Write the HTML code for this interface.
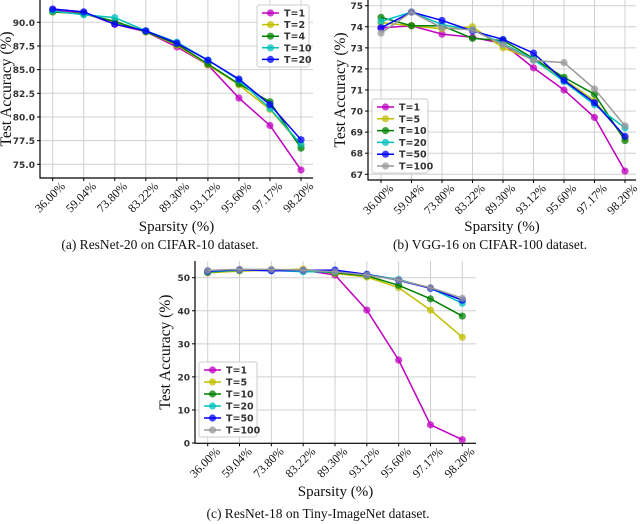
<!DOCTYPE html>
<html><head><meta charset="utf-8"><style>
html,body{margin:0;padding:0;background:#fff;width:640px;height:524px;overflow:hidden}
svg{display:block}
</style></head><body>
<svg id="fig" width="640" height="524" xmlns="http://www.w3.org/2000/svg"></svg>
<script>
const categories = ["36.00%","59.04%","73.80%","83.22%","89.30%","93.12%","95.60%","97.17%","98.20%"];
// Panel (a) ResNet-20 CIFAR-10
const aNames = ["T=1","T=2","T=4","T=10","T=20"];
const aT1 = [91.3,91.0,89.8,89.0,87.4,85.5,82.0,79.1,74.4];
const aT2 = [91.1,90.9,90.0,89.0,87.6,85.5,83.4,80.8,77.0];
const aT4 = [91.1,90.9,90.1,89.0,87.7,85.6,83.5,81.6,76.7];
const aT10 = [91.2,90.8,90.5,89.1,87.9,86.0,83.9,80.9,77.1];
const aT20 = [91.4,91.1,89.8,89.1,87.8,86.0,84.0,81.3,77.6];
const aTicks = [75.0,77.5,80.0,82.5,85.0,87.5,90.0];
// Panel (b) VGG-16 CIFAR-100
const bNames = ["T=1","T=5","T=10","T=20","T=50","T=100"];
const bT1 = [73.95,74.05,73.65,73.5,73.2,72.05,71.0,69.7,67.15];
const bT5 = [74.2,74.05,73.9,74.0,73.0,72.45,71.5,70.5,68.7];
const bT10 = [74.45,74.05,74.05,73.45,73.35,72.5,71.6,70.8,68.6];
const bT20 = [74.25,74.7,74.1,73.85,73.2,72.45,71.4,70.3,69.2];
const bT50 = [73.95,74.7,74.3,73.8,73.4,72.75,71.45,70.4,68.8];
const bT100 = [73.7,74.7,73.95,73.85,73.15,72.4,72.3,71.05,69.3];
const bTicks = [67,68,69,70,71,72,73,74,75];
// Panel (c) ResNet-18 Tiny-ImageNet
const cNames = ["T=1","T=5","T=10","T=20","T=50","T=100"];
const cT1 = [51.5,52.2,52.3,52.3,50.8,40.2,25.1,5.5,1.0];
const cT5 = [51.5,52.0,52.3,52.6,51.3,50.2,47.0,40.2,32.0];
const cT10 = [51.7,52.3,52.3,52.2,51.5,50.6,47.7,43.6,38.4];
const cT20 = [51.8,52.3,52.2,51.8,51.8,51.0,49.5,46.8,42.3];
const cT50 = [52.0,52.4,52.1,52.2,52.3,51.0,49.2,46.8,43.2];
const cT100 = [52.2,52.5,52.5,52.3,51.8,50.8,49.3,47.0,43.8];
const cTicks = [0,10,20,30,40,50];

const NS="http://www.w3.org/2000/svg";
const svg=document.getElementById('fig');
function el(tag,attrs,parent){const e=document.createElementNS(NS,tag);for(const k in attrs)e.setAttribute(k,attrs[k]);(parent||svg).appendChild(e);return e;}

function panel(o){
  const g=el('g',{});
  
  
  const x=i=>o.x0+i*(o.x1-o.x0)/(categories.length-1);
  const y=v=>o.yA+(v-o.vA)*(o.yB-o.yA)/(o.vB-o.vA);
  categories.forEach((c,i)=>{el('line',{x1:x(i),x2:x(i),y1:o.top,y2:o.bot,stroke:'#d0d0d0','stroke-width':1},g);});
  o.ticks.forEach(t=>{el('line',{x1:o.left,x2:o.right,y1:y(t),y2:y(t),stroke:'#d0d0d0','stroke-width':1},g);});
  el('line',{x1:o.left,x2:o.left,y1:o.top,y2:o.bot+0.5,stroke:'#000','stroke-width':1.2},g);
  el('line',{x1:o.left,x2:o.right,y1:o.bot,y2:o.bot,stroke:'#000','stroke-width':1.2},g);
  o.ticks.forEach(t=>{
    el('line',{x1:o.left-3,x2:o.left,y1:y(t),y2:y(t),stroke:'#000'},g);
    const tx=el('text',{x:o.left-5,y:y(t)+3.5,'text-anchor':'end','font-family':'DejaVu Sans, sans-serif','font-size':9,'font-weight':'bold',fill:'#333'},g);
    tx.textContent=o.fmt(t);
    
    
  });
  categories.forEach((c,i)=>{
    el('line',{x1:x(i),x2:x(i),y1:o.bot,y2:o.bot+3,stroke:'#000'},g);
    const tx=el('text',{transform:`translate(${x(i)},${o.bot+22}) rotate(-45)`,'text-anchor':'middle','font-family':'Liberation Serif, serif','font-size':12,fill:'#111'},g);
    tx.textContent=c;
    
    
  });
  o.series.forEach((s,si)=>{
    const pts=s.vals.map((v,i)=>`${x(i)},${y(v)}`).join(' ');
    const pl=el('polyline',{points:pts,fill:'none',stroke:s.color,'stroke-width':1.5},g);
    
    
    s.vals.forEach((v,i)=>{
      const c=el('circle',{cx:x(i),cy:y(v),r:3.6,fill:s.color,'fill-opacity':0.75},g);
      
      
    });
  });
  const L=o.leg;
  const lg=el('g',{},g);
  
  
  el('rect',{x:L.x,y:L.y,width:L.w,height:L.h,rx:2,fill:'#fff','fill-opacity':0.85,stroke:'#ccc'},lg);
  o.series.forEach((s,si)=>{
    const yy=L.y+L.pad+si*L.step;
    el('line',{x1:L.x+5,x2:L.x+22,y1:yy,y2:yy,stroke:s.color,'stroke-width':1.5},lg);
    el('circle',{cx:L.x+13.5,cy:yy,r:3.6,fill:s.color,'fill-opacity':0.75},lg);
    const t=el('text',{x:L.x+27,y:yy+3.5,'font-family':'DejaVu Sans, sans-serif','font-size':9.5,'font-weight':'bold',fill:'#333'},lg);
    t.textContent=s.name;
    
    
  });
  const yl=el('text',{transform:`translate(${o.ylx},${(o.top+o.bot)/2}) rotate(-90)`,'text-anchor':'middle','font-family':'Liberation Serif, serif','font-size':15.5,fill:'#111'},g);
  yl.textContent='Test Accuracy (%)';
  
  
  const xl=el('text',{x:(o.left+o.right)/2,y:o.xly,'text-anchor':'middle','font-family':'Liberation Serif, serif','font-size':15,fill:'#111'},g);
  xl.textContent='Sparsity (%)';
  
  
  const cap=el('text',{x:o.capx,y:o.capy,'text-anchor':'middle','font-family':'Liberation Serif, serif','font-size':13.5,fill:'#111'},g);
  cap.textContent=o.caption;
  
  
}
const C={m:'#c000c0',y:'#bfbf00',g:'#008000',c:'#00bfbf',b:'#0000ff',k:'#999999'};
panel({id:'chart-resnet20',x0:52.7,x1:301,left:40,right:313,top:0,bot:178,yA:164.3,vA:75,yB:22.3,vB:90,ticks:aTicks,fmt:t=>t.toFixed(1),
  series:[{name:aNames[0],vals:aT1,color:C.m},{name:aNames[1],vals:aT2,color:C.y},{name:aNames[2],vals:aT4,color:C.g},{name:aNames[3],vals:aT10,color:C.c},{name:aNames[4],vals:aT20,color:C.b}],
  leg:{x:257,y:5,w:52,h:62,pad:8,step:11.6},ylx:11,xly:231,capx:160,capy:249,caption:'(a) ResNet-20 on CIFAR-10 dataset.'});
panel({id:'chart-vgg16',x0:381,x1:625,left:368,right:636,top:0,bot:180,yA:174.3,vA:67,yB:5.7,vB:75,ticks:bTicks,fmt:t=>String(t),
  series:[{name:bNames[0],vals:bT1,color:C.m},{name:bNames[1],vals:bT5,color:C.y},{name:bNames[2],vals:bT10,color:C.g},{name:bNames[3],vals:bT20,color:C.c},{name:bNames[4],vals:bT50,color:C.b},{name:bNames[5],vals:bT100,color:C.k}],
  leg:{x:372,y:99,w:56,h:74,pad:8,step:11.8},ylx:345,xly:231,capx:490,capy:249,caption:'(b) VGG-16 on CIFAR-100 dataset.'});
panel({id:'chart-resnet18',x0:207.7,x1:462.3,left:195,right:476,top:261,bot:443.3,yA:443,vA:0,yB:277.7,vB:50,ticks:cTicks,fmt:t=>String(t),
  series:[{name:cNames[0],vals:cT1,color:C.m},{name:cNames[1],vals:cT5,color:C.y},{name:cNames[2],vals:cT10,color:C.g},{name:cNames[3],vals:cT20,color:C.c},{name:cNames[4],vals:cT50,color:C.b},{name:cNames[5],vals:cT100,color:C.k}],
  leg:{x:199,y:362,w:58,h:75,pad:8,step:12},ylx:170,xly:496,capx:318,capy:518,caption:'(c) ResNet-18 on Tiny-ImageNet dataset.'});
</script>
</body></html>
